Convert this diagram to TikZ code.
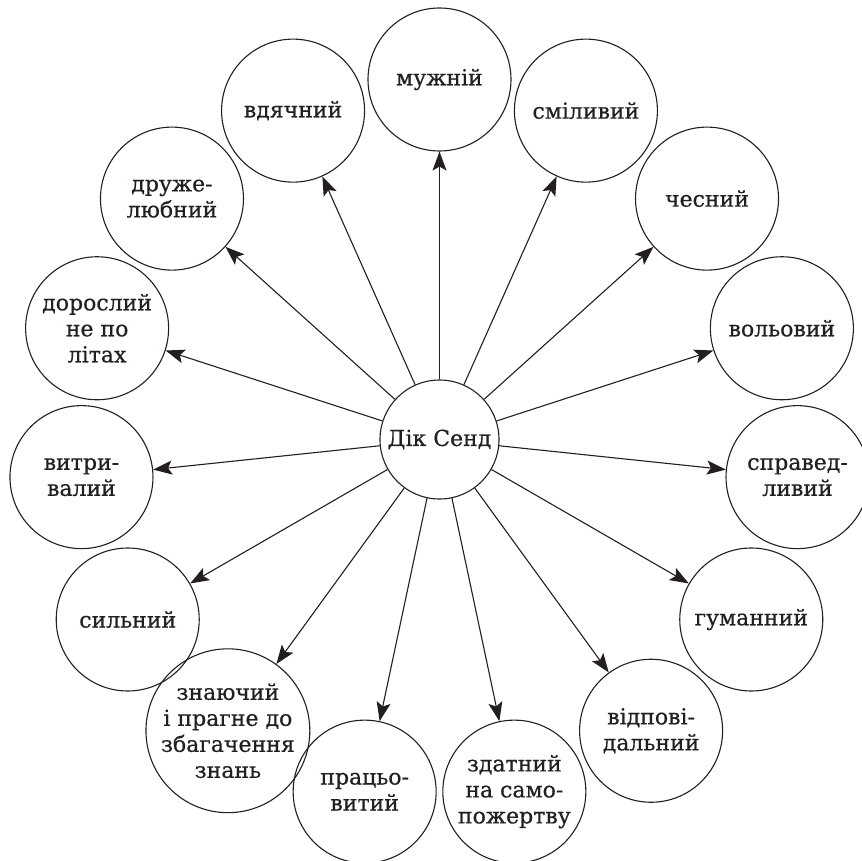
\documentclass[tikz,border=0pt]{standalone}
\usepackage{fontspec}
\setmainfont{DejaVu Serif}
\newfontfamily\labfont[FakeBold=0.6]{DejaVu Serif}
\usetikzlibrary{arrows.meta}
\definecolor{ink}{HTML}{231F20}
\begin{document}
\begin{tikzpicture}[x=1pt,y=1pt,
  trait/.style={circle,draw=ink,line width=1.1pt,minimum size=143pt,inner sep=0pt,align=center,text=ink,font=\labfont\fontsize{22}{26}\selectfont},
  hub/.style={trait,minimum size=119pt},
  link/.style={draw=ink,line width=1.1pt,-{Stealth[length=19pt,width=14pt,inset=4pt]}}]
\useasboundingbox (-439.5,-420.5) rectangle (422.5,439.5);
\node[hub] (c) at (0,0) {Дік Сенд};
\node[trait] (t1) at (90:360) {мужній};
\node[trait] (t2) at (114:360) {вдячний};
\node[trait] (t3) at (138:360) {друже-\\любний};
\node[trait] (t4) at (162:360) {дорослий\\не по\\літах};
\node[trait] (t5) at (186:360) {витри-\\валий};
\node[trait] (t6) at (210:360) {сильний};
\node[trait] (t7) at (234:360) {знаючий\\і прагне до\\збагачення\\знань};
\node[trait] (t8) at (258:360) {працьо-\\витий};
\node[trait] (t9) at (282:360) {здатний\\на само-\\пожертву};
\node[trait] (t10) at (306:360) {відпові-\\дальний};
\node[trait] (t11) at (330:360) {гуманний};
\node[trait] (t12) at (354:360) {справед-\\ливий};
\node[trait] (t13) at (18:360) {вольовий};
\node[trait] (t14) at (42:360) {чесний};
\node[trait] (t15) at (66:360) {сміливий};
\foreach \i in {1,...,15} \draw[link] (c) -- (t\i);
\end{tikzpicture}
\end{document}
